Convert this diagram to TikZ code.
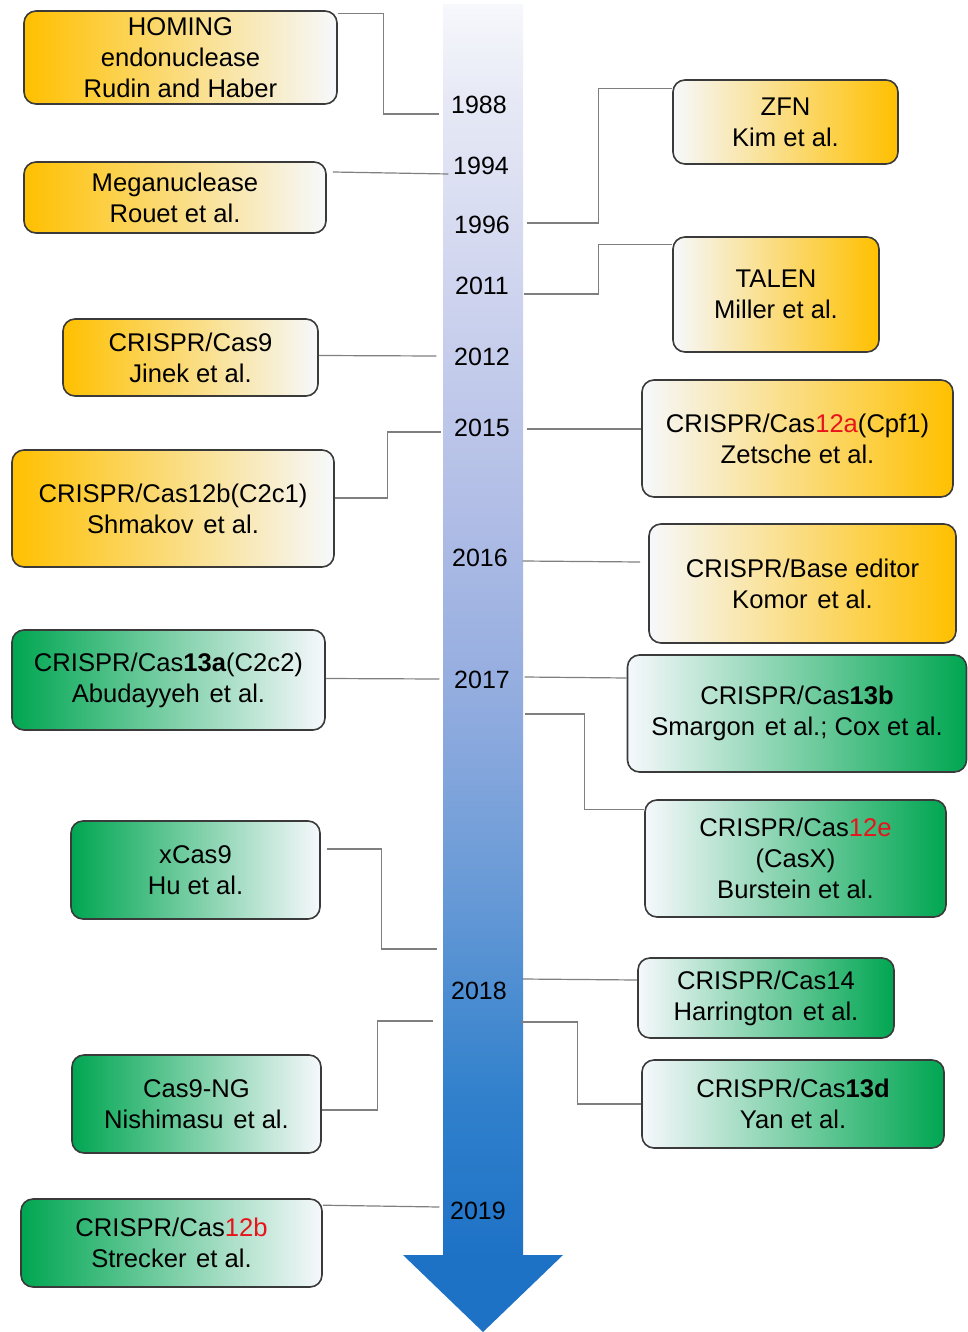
\documentclass[tikz,border=0pt]{standalone}
\usepackage{fontspec}
\setmainfont{Liberation Sans}
\usetikzlibrary{calc}
\definecolor{orng}{HTML}{FFC000}
\definecolor{grn}{HTML}{00A651}
\definecolor{wht}{HTML}{F6F8FC}
\definecolor{rd}{HTML}{E8141B}
\definecolor{connc}{HTML}{7F7F7F}
\definecolor{boxline}{HTML}{3A3A3A}
\definecolor{headblue}{HTML}{1E72C6}
\definecolor{sb0}{HTML}{F7F8FC}
\definecolor{sb1}{HTML}{E6E9F5}
\definecolor{sb2}{HTML}{CDD3EE}
\definecolor{sb3}{HTML}{B2BEE6}
\definecolor{sb4}{HTML}{92ACDF}
\definecolor{sb5}{HTML}{6699D6}
\definecolor{sb6}{HTML}{3080CC}
\definecolor{sb7}{HTML}{1E72C6}
\pgfdeclareverticalshading{shaftshade}{100bp}{color(0bp)=(sb7); color(25bp)=(sb7); color(31.3bp)=(sb6); color(39.3bp)=(sb5); color(47.2bp)=(sb4); color(55.2bp)=(sb3); color(63.2bp)=(sb2); color(71.2bp)=(sb1); color(75bp)=(sb0); color(100bp)=(sb0)}
\tikzset{
  box/.style 2 args={draw=boxline, line width=0.8pt, rounded corners=6pt,
    minimum width=#1*0.5pt, minimum height=#2*0.5pt, align=center,
    inner sep=0pt, font=\fontsize{12.8}{15.5}\selectfont},
  ol/.style={left color=orng, middle color=orng!50!white, right color=wht},
  or/.style={left color=wht, middle color=orng!50!white, right color=orng},
  gl/.style={left color=grn, middle color=grn!52!white, right color=wht},
  gr/.style={left color=wht, middle color=grn!52!white, right color=grn},
  yr/.style={font=\fontsize{12.5}{15.5}\selectfont, inner xsep=6pt, inner ysep=2pt},
  conn/.style={draw=connc, line width=0.6pt}
}
\newcommand{\rr}[1]{\textcolor{rd}{#1}}
\newcommand{\gp}{\hspace{0.1em}}
\begin{document}
\begin{tikzpicture}[x=0.5pt, y=-0.5pt]
\useasboundingbox (0,0) rectangle (968,1332);
% timeline arrow
\path[shading=shaftshade] (443,5) rectangle (523,1257);
\fill[headblue] (403,1255) -- (563,1255) -- (483,1332) -- cycle;
% years
\node[yr] (y1988) at (479,105) {1988};
\node[yr] (y1994) at (481,166) {1994};
\node[yr] (y1996) at (482,225) {1996};
\node[yr] (y2011) at (482,286) {2011};
\node[yr] (y2012) at (482,357) {2012};
\node[yr] (y2015) at (482,428) {2015};
\node[yr] (y2016) at (480,558) {2016};
\node[yr] (y2017) at (482,680) {2017};
\node[yr] (y2018) at (479,991) {2018};
\node[yr] (y2019) at (478,1211) {2019};
% left boxes
\node[box={313}{93}, ol] (homing) at (180.5,57.5) {HOMING\\endonuclease\\Rudin and Haber};
\node[box={302}{71}, ol] (mega) at (175,197.5) {Meganuclease\\Rouet et al.};
\node[box={255}{77}, ol] (cas9) at (190.5,357.5) {CRISPR/Cas9\\Jinek et al.};
\node[box={322}{117}, ol] (cas12bA) at (173,508.5) {CRISPR/Cas12b(C2c1)\\Shmakov\gp{} et al.};
\node[box={313}{100}, gl] (cas13a) at (168.5,680) {CRISPR/Cas\textbf{13a}(C2c2)\\Abudayyeh\gp{} et al.};
\node[box={249}{98}, gl] (xcas9) at (195.5,870) {xCas9\\Hu et al.};
\node[box={249}{98}, gl] (cas9ng) at (196.5,1104) {Cas9-NG\\Nishimasu\gp{} et al.};
\node[box={301}{88}, gl] (cas12bB) at (171.5,1243) {CRISPR/Cas\rr{12b}\\Strecker\gp{} et al.};
% right boxes
\node[box={225}{84}, or] (zfn) at (785.5,122) {ZFN\\Kim et al.};
\node[box={206}{115}, or] (talen) at (776,294.5) {TALEN\\Miller et al.};
\node[box={311}{117}, or] (cas12a) at (797.5,438.5) {CRISPR/Cas\rr{12a}(Cpf1)\\Zetsche et al.};
\node[box={307}{119}, or] (base) at (802.5,583.5) {CRISPR/Base editor\\Komor\gp{} et al.};
\node[box={339}{117}, gr] (cas13b) at (797,713.5) {CRISPR/Cas\textbf{13b}\\Smargon\gp{} et al.; Cox et al.};
\node[box={301}{117}, gr] (cas12e) at (795.5,858.5) {CRISPR/Cas\rr{12e}\\(CasX)\\Burstein et al.};
\node[box={256}{80}, gr] (cas14) at (766,998) {CRISPR/Cas14\\Harrington\gp{} et al.};
\node[box={302}{88}, gr] (cas13d) at (793,1104) {CRISPR/Cas\textbf{13d}\\Yan et al.};
% connectors
\draw[conn] ($(homing.north east)+(0,3)$) -| ($(y1988.west)+(-55,9)$) -- ($(y1988.west)+(0,9)$);
\draw[conn] ($(mega.east)+(6,-25.5)$) -- ($(y1994.west)+(7.5,8)$);
\draw[conn] ($(y1996.east)+(4.5,-2)$) -| ($(zfn.north west)+(-74,9)$) -- ($(zfn.north west)+(0,9)$);
\draw[conn] ($(y2011.east)+(2.5,8)$) -| ($(talen.north west)+(-74,8)$) -- ($(talen.north west)+(0,8)$);
\draw[conn] ($(cas9.east)+(0,-2)$) -- ($(y2012.west)+(-5.5,-1)$);
\draw[conn] ($(cas12bA.east)+(0,-10.5)$) -| ($(y2015.west)+(-54.5,4)$) -- ($(y2015.west)+(-1,4)$);
\draw[conn] ($(y2015.east)+(4.5,1)$) -- ($(cas12a.west)+(0,-9.5)$);
\draw[conn] ($(y2016.east)+(2.5,3)$) -- ($(base.west)+(-8,-21.5)$);
\draw[conn] ($(cas13a.east)+(0,-1.5)$) -- ($(y2017.west)+(-2.5,-1)$);
\draw[conn] ($(y2017.east)+(2.5,-3)$) -- ($(cas13b.west)+(0,-35.5)$);
\draw[conn] ($(y2017.east)+(2.5,34)$) -| ($(cas12e.north west)+(-60,10)$) -- ($(cas12e.north west)+(0,10)$);
\draw[conn] ($(xcas9.east)+(6,-21)$) -| ($(y2018.west)+(-57.5,-42)$) -- ($(y2018.west)+(-1.5,-42)$);
\draw[conn] ($(y2018.east)+(3.5,-12)$) -- ($(cas14.west)+(0,-18)$);
\draw[conn] ($(cas9ng.east)+(0,6)$) -| ($(y2018.west)+(-61.5,30)$) -- ($(y2018.west)+(-5.5,30)$);
\draw[conn] ($(y2018.east)+(1.5,31)$) -| ($(cas13d.west)+(-64,0)$) -- (cas13d.west);
\draw[conn] ($(cas12bB.north east)+(0,7)$) -- ($(y2019.west)+(1.5,-4)$);
\end{tikzpicture}
\end{document}
